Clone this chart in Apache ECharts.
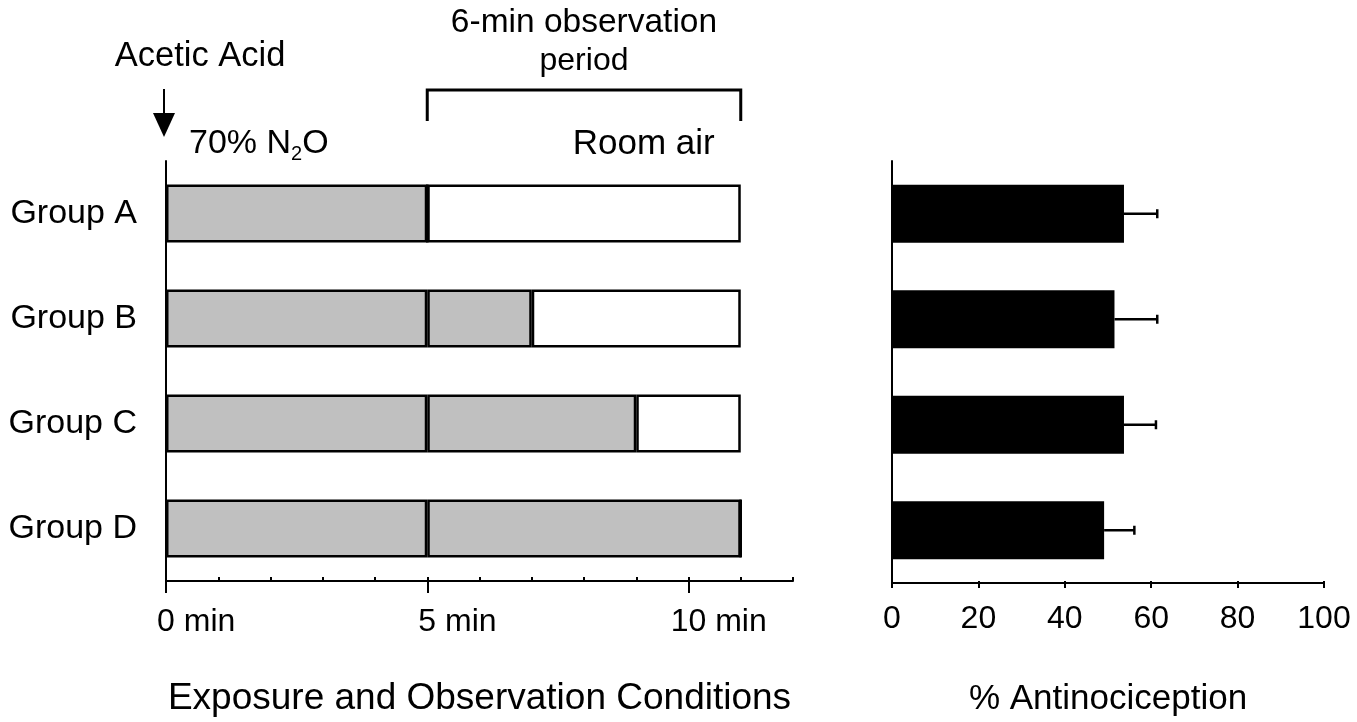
<!DOCTYPE html>
<html>
<head>
<meta charset="utf-8">
<script src="https://cdn.jsdelivr.net/npm/echarts@6/dist/echarts.min.js"></script>
<style>
  html, body { margin: 0; padding: 0; background: #fff; }
  #chart { width: 1357px; height: 722px; }
</style>
</head>
<body>
<div id="chart"></div>
<script>
// ---- data ----
const groups = ['Group A', 'Group B', 'Group C', 'Group D'];
const n2oBeforeObs = [5, 5, 5, 5];     // min of 70% N2O before observation period
const n2oDuringObs = [0, 2, 4, 6];     // min of 70% N2O within the observation period
const roomAirObs   = [6, 4, 2, 0];     // min of room air within the observation period
const antinociception = [53.7, 51.5, 53.7, 49.1];
const antinociceptionSem = [7.7, 9.9, 7.4, 7.0];
const timeMajorTicks = [0, 5, 10];     // labelled minutes
const pctTicks = [0, 20, 40, 60, 80, 100];
const obsStart = 5, obsEnd = 11;       // observation period (min)

const FONT = "'Liberation Sans', Arial, Helvetica, sans-serif";
const BLACK = '#000';
const GREY = '#c0c0c0';

const chart = echarts.init(document.getElementById('chart'), null, { renderer: 'canvas' });

const gTop = 161, gH = 425;
const leftL = 166, leftW = 627;       // 0..12 min
const majW = leftW * 10 / 12;         // 0..10 min
const rightL = 892, rightW = 432;

function hiddenY(gi) {
  return { type: 'category', gridIndex: gi, data: groups, inverse: true, show: false };
}

const errData = antinociception.map((v, i) => [v, i, v + antinociceptionSem[i]]);

const option = {
  backgroundColor: '#fff',
  animation: false,
  textStyle: { fontFamily: FONT, color: BLACK },
  grid: [
    { left: leftL, top: gTop, width: leftW, height: gH },
    { left: leftL, top: gTop, width: majW, height: gH },
    { left: leftL, top: gTop, width: majW, height: gH },
    { left: rightL, top: gTop, width: rightW, height: gH },
    { left: rightL, top: gTop, width: rightW, height: gH }
  ],
  xAxis: [
    { // 0: minutes axis with minor ticks
      type: 'value', gridIndex: 0, min: 0, max: 12, interval: 1,
      axisLine: { show: true, lineStyle: { color: BLACK, width: 2 } },
      axisTick: { show: true, inside: true, length: 4, lineStyle: { color: BLACK, width: 2 } },
      axisLabel: { show: false },
      splitLine: { show: false },
      name: 'Exposure and Observation Conditions',
      nameLocation: 'middle', nameGap: 99,
      nameTextStyle: { fontFamily: FONT, fontSize: 37, color: BLACK }
    },
    { // 1: major ticks outside + labels (number centred on the tick)
      type: 'value', gridIndex: 1, min: 0, max: 10, interval: 5,
      axisLine: { show: false },
      axisTick: { show: true, inside: false, length: 7, lineStyle: { color: BLACK, width: 2 } },
      axisLabel: {
        show: true, margin: 20, fontFamily: FONT, fontSize: 32, color: BLACK,
        formatter: v => timeMajorTicks.includes(v) ? '{h| min}{n|' + v + '}{n| min}' : '',
        rich: {
          h: { fontFamily: FONT, fontSize: 32, color: 'rgba(0,0,0,0)' },
          n: { fontFamily: FONT, fontSize: 32, color: BLACK }
        }
      },
      splitLine: { show: false }
    },
    { // 2: major ticks inside
      type: 'value', gridIndex: 2, min: 0, max: 10, interval: 5,
      axisLine: { show: false },
      axisTick: { show: true, inside: true, length: 7, lineStyle: { color: BLACK, width: 2 } },
      axisLabel: { show: false },
      splitLine: { show: false }
    },
    { // 3: percent axis
      type: 'value', gridIndex: 3, min: 0, max: 100, interval: 20,
      axisLine: { show: true, lineStyle: { color: BLACK, width: 2 } },
      axisTick: { show: true, inside: false, length: 5, lineStyle: { color: BLACK, width: 2 } },
      axisLabel: { show: true, margin: 20, fontFamily: FONT, fontSize: 32, color: BLACK,
                   formatter: v => pctTicks.includes(v) ? String(v) : '' },
      splitLine: { show: false },
      name: '% Antinociception',
      nameLocation: 'middle', nameGap: 99,
      nameTextStyle: { fontFamily: FONT, fontSize: 35, color: BLACK }
    },
    { // 4: percent ticks inside
      type: 'value', gridIndex: 4, min: 0, max: 100, interval: 20,
      axisLine: { show: false },
      axisTick: { show: true, inside: true, length: 5, lineStyle: { color: BLACK, width: 2 } },
      axisLabel: { show: false },
      splitLine: { show: false }
    }
  ],
  yAxis: [
    {
      type: 'category', gridIndex: 0, data: groups, inverse: true,
      axisLine: { show: true, lineStyle: { color: BLACK, width: 2 } },
      axisTick: { show: false },
      axisLabel: { margin: 29, fontFamily: FONT, fontSize: 34, color: BLACK },
      splitLine: { show: false }
    },
    hiddenY(1),
    hiddenY(2),
    {
      type: 'category', gridIndex: 3, data: groups, inverse: true,
      axisLine: { show: true, lineStyle: { color: BLACK, width: 2 } },
      axisTick: { show: false },
      axisLabel: { show: false },
      splitLine: { show: false }
    },
    hiddenY(4)
  ],
  series: [
    {
      name: '70% N2O (pre)', type: 'bar', stack: 'cond', xAxisIndex: 0, yAxisIndex: 0,
      data: n2oBeforeObs, barWidth: 58,
      itemStyle: { color: GREY, borderColor: BLACK, borderWidth: 2.5 }
    },
    {
      name: '70% N2O (obs)', type: 'bar', stack: 'cond', xAxisIndex: 0, yAxisIndex: 0,
      data: n2oDuringObs, barWidth: 58,
      itemStyle: { color: GREY, borderColor: BLACK, borderWidth: 2.5 }
    },
    {
      name: 'Room air', type: 'bar', stack: 'cond', xAxisIndex: 0, yAxisIndex: 0,
      data: roomAirObs, barWidth: 58,
      itemStyle: { color: '#fff', borderColor: BLACK, borderWidth: 2.5 }
    },
    {
      name: '% Antinociception', type: 'bar', xAxisIndex: 3, yAxisIndex: 3,
      data: antinociception, barWidth: 58,
      itemStyle: { color: BLACK }
    },
    {
      name: 'SEM', type: 'custom', xAxisIndex: 3, yAxisIndex: 3,
      data: errData, z: 5,
      encode: { x: [0, 2], y: 1 },
      renderItem: function (params, api) {
        const p1 = api.coord([api.value(0), api.value(1)]);
        const p2 = api.coord([api.value(2), api.value(1)]);
        const style = { stroke: BLACK, lineWidth: 2.5 };
        return {
          type: 'group',
          children: [
            { type: 'line', shape: { x1: p1[0], y1: p1[1], x2: p2[0], y2: p2[1] }, style },
            { type: 'line', shape: { x1: p2[0], y1: p2[1] - 4.5, x2: p2[0], y2: p2[1] + 4.5 }, style }
          ]
        };
      }
    }
  ]
};

chart.setOption(option);

// annotations positioned from the time axis
const xAt = m => chart.convertToPixel({ xAxisIndex: 0 }, m);
const x0 = xAt(0), xs = xAt(obsStart), xe = xAt(obsEnd);

chart.setOption({
  graphic: [
    { type: 'text', x: x0 + 34, y: 56,
      style: { text: 'Acetic Acid', font: '34.5px ' + FONT, fill: BLACK, align: 'center', verticalAlign: 'middle' } },
    { type: 'line', shape: { x1: x0 - 2, y1: 89, x2: x0 - 2, y2: 118 }, style: { stroke: BLACK, lineWidth: 2 } },
    { type: 'polygon', shape: { points: [[x0 - 13, 113], [x0 + 9, 113], [x0 - 2, 137]] }, style: { fill: BLACK } },
    { type: 'text', x: x0 + 23, y: 144,
      style: {
        text: '{a|70% N}{s|2}{a|O}', align: 'left', verticalAlign: 'middle',
        rich: {
          a: { fontFamily: FONT, fontSize: 34, lineHeight: 40, fill: BLACK, color: BLACK },
          s: { fontFamily: FONT, fontSize: 20, lineHeight: 20, verticalAlign: 'bottom', color: BLACK, fill: BLACK }
        }
      } },
    { type: 'text', x: (xs + xe) / 2, y: 23,
      style: { text: '6-min observation', font: '33.5px ' + FONT, fill: BLACK, align: 'center', verticalAlign: 'middle' } },
    { type: 'text', x: (xs + xe) / 2, y: 61,
      style: { text: 'period', font: '32px ' + FONT, fill: BLACK, align: 'center', verticalAlign: 'middle' } },
    { type: 'polyline', shape: { points: [[xs, 121], [xs, 90], [xe, 90], [xe, 121]] },
      style: { stroke: BLACK, lineWidth: 3, fill: null } },
    { type: 'text', x: xe - 26, y: 144,
      style: { text: 'Room air', font: '35px ' + FONT, fill: BLACK, align: 'right', verticalAlign: 'middle' } }
  ]
});
</script>
</body>
</html>
